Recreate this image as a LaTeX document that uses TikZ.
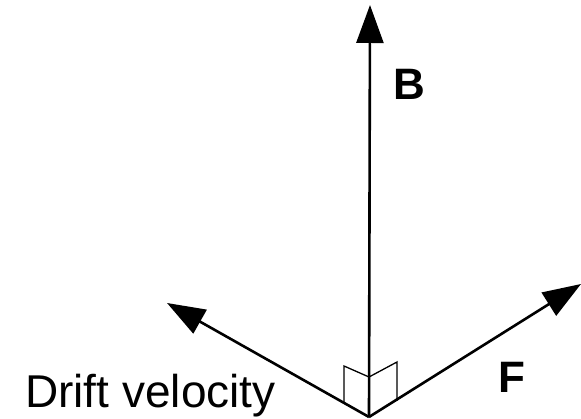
\documentclass[tikz,border=0pt]{standalone}
\usepackage{fontspec}
\setmainfont{Liberation Sans}
\usetikzlibrary{arrows.meta}

\begin{document}
\begin{tikzpicture}[x=1pt,y=-1pt,
	vec/.style={line width=2.6pt,-{Triangle[length=38pt,width=27pt]}},
	perp/.style={line width=1.3pt,line join=miter},
	lbl/.style={inner sep=0pt,font=\fontsize{44}{48}\selectfont\bfseries}]
		\useasboundingbox (0,0) rectangle (581,419);
		\coordinate (O) at (369,417);
		\coordinate (Btip) at (370,5);
		\coordinate (Vtip) at (167,303);
		\coordinate (Ftip) at (581,284);
		% right angle marks
		\draw[perp] (344,402) -- (344,366) -- (369,377) -- (397,362) -- (397,401);
		\draw[vec] (O) -- (Btip);
		\draw[vec] (O) -- (Vtip);
		\draw[vec] (O) -- (Ftip);
		\node[lbl] (B) at (409,84) {B};
		\node[lbl] (F) at (512,377) {F};
		\node[inner sep=0pt,anchor=base west,font=\fontsize{46}{50}\selectfont] (drift) at (25,408) {Drift velocity};
	\end{tikzpicture}
\end{document}
